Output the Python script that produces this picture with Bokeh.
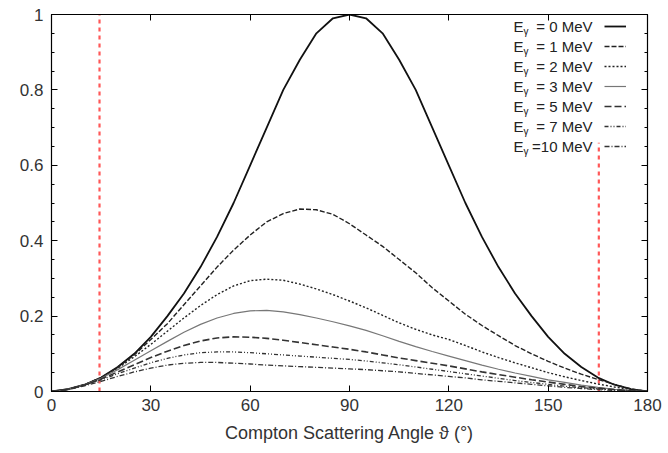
from bokeh.plotting import figure
from bokeh.models import (FixedTicker, LinearAxis, Range1d, Label, Legend, LegendItem,
                          CustomJSTickFormatter, ColumnDataSource)
from bokeh.embed import file_html
from bokeh.resources import INLINE

# ---------------- data ----------------
theta = [0, 5, 10, 15, 20, 25, 30, 35, 40, 45, 50, 55, 60, 65, 70, 75, 80, 85, 90,
         95, 100, 105, 110, 115, 120, 125, 130, 135, 140, 145, 150, 155, 160, 165, 170, 175, 180]

e0 = [0.000, 0.006, 0.018, 0.037, 0.065, 0.100, 0.145, 0.200, 0.260, 0.330, 0.410, 0.500, 0.600,
      0.700, 0.800, 0.880, 0.950, 0.990, 1.000, 0.990, 0.950, 0.880, 0.800, 0.700, 0.600, 0.500,
      0.410, 0.330, 0.260, 0.200, 0.145, 0.100, 0.065, 0.037, 0.018, 0.006, 0.000]
e1 = [0.000, 0.006, 0.018, 0.037, 0.064, 0.097, 0.138, 0.180, 0.230, 0.280, 0.330, 0.375, 0.415,
      0.450, 0.472, 0.484, 0.482, 0.470, 0.445, 0.415, 0.385, 0.350, 0.315, 0.275, 0.240, 0.205,
      0.175, 0.148, 0.122, 0.100, 0.080, 0.062, 0.046, 0.032, 0.019, 0.007, 0.000]
e2 = [0.000, 0.006, 0.018, 0.036, 0.062, 0.092, 0.125, 0.160, 0.195, 0.228, 0.257, 0.280, 0.294,
      0.298, 0.295, 0.285, 0.272, 0.257, 0.240, 0.222, 0.202, 0.182, 0.165, 0.150, 0.138, 0.122,
      0.105, 0.090, 0.076, 0.063, 0.050, 0.039, 0.029, 0.020, 0.012, 0.005, 0.000]
e3 = [0.000, 0.006, 0.018, 0.035, 0.058, 0.083, 0.108, 0.133, 0.157, 0.178, 0.195, 0.207, 0.214,
      0.215, 0.211, 0.204, 0.195, 0.185, 0.174, 0.162, 0.148, 0.133, 0.119, 0.106, 0.094, 0.082,
      0.070, 0.059, 0.049, 0.040, 0.031, 0.024, 0.017, 0.011, 0.006, 0.002, 0.000]
e5 = [0.000, 0.006, 0.017, 0.033, 0.052, 0.071, 0.090, 0.107, 0.122, 0.134, 0.142, 0.145, 0.144,
      0.141, 0.136, 0.130, 0.124, 0.118, 0.112, 0.105, 0.097, 0.089, 0.082, 0.075, 0.068, 0.060,
      0.052, 0.045, 0.038, 0.031, 0.025, 0.019, 0.013, 0.009, 0.005, 0.002, 0.000]
e7 = [0.000, 0.006, 0.017, 0.031, 0.047, 0.062, 0.076, 0.088, 0.097, 0.103, 0.105, 0.105, 0.103,
      0.100, 0.097, 0.094, 0.091, 0.088, 0.085, 0.081, 0.076, 0.071, 0.065, 0.059, 0.053, 0.047,
      0.041, 0.035, 0.029, 0.024, 0.019, 0.014, 0.010, 0.007, 0.004, 0.001, 0.000]
e10 = [0.000, 0.005, 0.015, 0.027, 0.040, 0.052, 0.062, 0.070, 0.075, 0.077, 0.077, 0.075, 0.073,
       0.070, 0.068, 0.066, 0.064, 0.062, 0.060, 0.058, 0.055, 0.052, 0.048, 0.044, 0.040, 0.036,
       0.031, 0.027, 0.023, 0.019, 0.015, 0.011, 0.008, 0.005, 0.003, 0.001, 0.000]

energies = ["0", "1", "2", "3", "5", "7", "10"]
legend_texts = ["= 0 MeV", "= 1 MeV", "= 2 MeV", "= 3 MeV", "= 5 MeV", "= 7 MeV", "=10 MeV"]

cut_angles = [14.5, 165.3]
cut_bottom = [0.0, 0.0]
cut_top = [1.0, 0.66]

x_ticks = [0, 30, 60, 90, 120, 150, 180]
y_ticks = [0, 0.2, 0.4, 0.6, 0.8, 1.0]
y_minor = [0.05, 0.1, 0.15, 0.25, 0.3, 0.35, 0.45, 0.5, 0.55, 0.65, 0.7, 0.75, 0.85, 0.9, 0.95]

# ---------------- figure ----------------
FONT = "Liberation Sans"
p = figure(width=668, height=453, output_backend="svg", toolbar_location=None,
           x_range=Range1d(0, 180), y_range=Range1d(0, 1),
           min_border_left=51, min_border_right=21, min_border_top=14, min_border_bottom=62)
p.xgrid.visible = False
p.ygrid.visible = False
p.outline_line_color = "black"
p.outline_line_width = 1.2
p.background_fill_color = "white"
p.border_fill_color = "white"

def style_axis(ax):
    ax.axis_line_color = "black"
    ax.major_tick_in = 6
    ax.major_tick_out = 0
    ax.minor_tick_in = 3
    ax.minor_tick_out = 0
    ax.major_tick_line_color = "black"
    ax.minor_tick_line_color = "black"
    ax.major_label_text_font = FONT
    ax.major_label_text_font_size = "17px"
    ax.major_label_text_color = "#333333"

xt = FixedTicker(ticks=x_ticks, minor_ticks=[])
yt = FixedTicker(ticks=y_ticks, minor_ticks=y_minor)
fmt = CustomJSTickFormatter(code="return String(Math.round(tick*100)/100);")
blank = CustomJSTickFormatter(code="return '';")

p.xaxis.ticker = xt
p.yaxis.ticker = yt
p.yaxis.formatter = fmt
style_axis(p.xaxis[0])
style_axis(p.yaxis[0])
p.xaxis.major_label_standoff = 7
p.yaxis.major_label_standoff = 8
p.xaxis.axis_label = "Compton Scattering Angle \u03d1 (\u00b0)"
p.xaxis.axis_label_text_font = FONT
p.xaxis.axis_label_text_font_size = "18px"
p.xaxis.axis_label_text_font_style = "normal"
p.xaxis.axis_label_text_color = "#333333"
p.xaxis.axis_label_standoff = 9

top_ax = LinearAxis(ticker=FixedTicker(ticks=x_ticks, minor_ticks=[]), formatter=blank)
style_axis(top_ax)
top_ax.major_label_standoff = 0
p.add_layout(top_ax, "above")
right_ax = LinearAxis(ticker=FixedTicker(ticks=y_ticks, minor_ticks=y_minor), formatter=blank)
style_axis(right_ax)
right_ax.major_label_standoff = 0
p.add_layout(right_ax, "right")

# red cut lines
p.segment(x0=cut_angles, y0=cut_bottom, x1=cut_angles, y1=cut_top,
          line_color="#ff3b3b", line_width=2.2, line_dash="4 4", line_alpha=0.85)

styles = [
    dict(line_color="#111111", line_width=1.8, line_dash="solid"),
    dict(line_color="#222222", line_width=1.4, line_dash="5 2"),
    dict(line_color="#222222", line_width=1.4, line_dash="2 2"),
    dict(line_color="#777777", line_width=1.2, line_dash="solid"),
    dict(line_color="#333333", line_width=1.6, line_dash="7 3"),
    dict(line_color="#333333", line_width=1.3, line_dash="4 2 1 2 1 2"),
    dict(line_color="#333333", line_width=1.3, line_dash="5 2 1 2"),
]
src = ColumnDataSource(dict(theta=theta, e0=e0, e1=e1, e2=e2, e3=e3, e5=e5, e7=e7, e10=e10))
keys = ["e0", "e1", "e2", "e3", "e5", "e7", "e10"]
renderers = []
for k, st in zip(keys, styles):
    r = p.line(x="theta", y=k, source=src, **st)
    renderers.append(r)

# legend: line samples (right), text labels (left)
items = [LegendItem(label=" ", renderers=[r]) for r in renderers]
leg = Legend(items=items, location=(553, 239), padding=0, margin=0, spacing=8,
             glyph_width=22, glyph_height=12, label_height=12, label_width=0,
             label_standoff=0, label_text_font_size="12px",
             border_line_color=None, background_fill_alpha=0)
p.add_layout(leg, "center")

for i, (e, t) in enumerate(zip(energies, legend_texts)):
    yc = 365.5 - 20 * i
    p.add_layout(Label(x=462, y=yc, x_units="screen", y_units="screen", text="E",
                       text_font=FONT, text_font_size="15px", text_color="#222222",
                       text_baseline="middle", text_align="left"))
    p.add_layout(Label(x=472, y=yc - 5, x_units="screen", y_units="screen", text="\u03b3",
                       text_font=FONT, text_font_size="10px", text_color="#222222",
                       text_baseline="middle", text_align="left"))
    p.add_layout(Label(x=541, y=yc, x_units="screen", y_units="screen", text=t,
                       text_font=FONT, text_font_size="15px", text_color="#222222",
                       text_baseline="middle", text_align="right"))

open("out.html", "w").write(file_html(p, INLINE))
